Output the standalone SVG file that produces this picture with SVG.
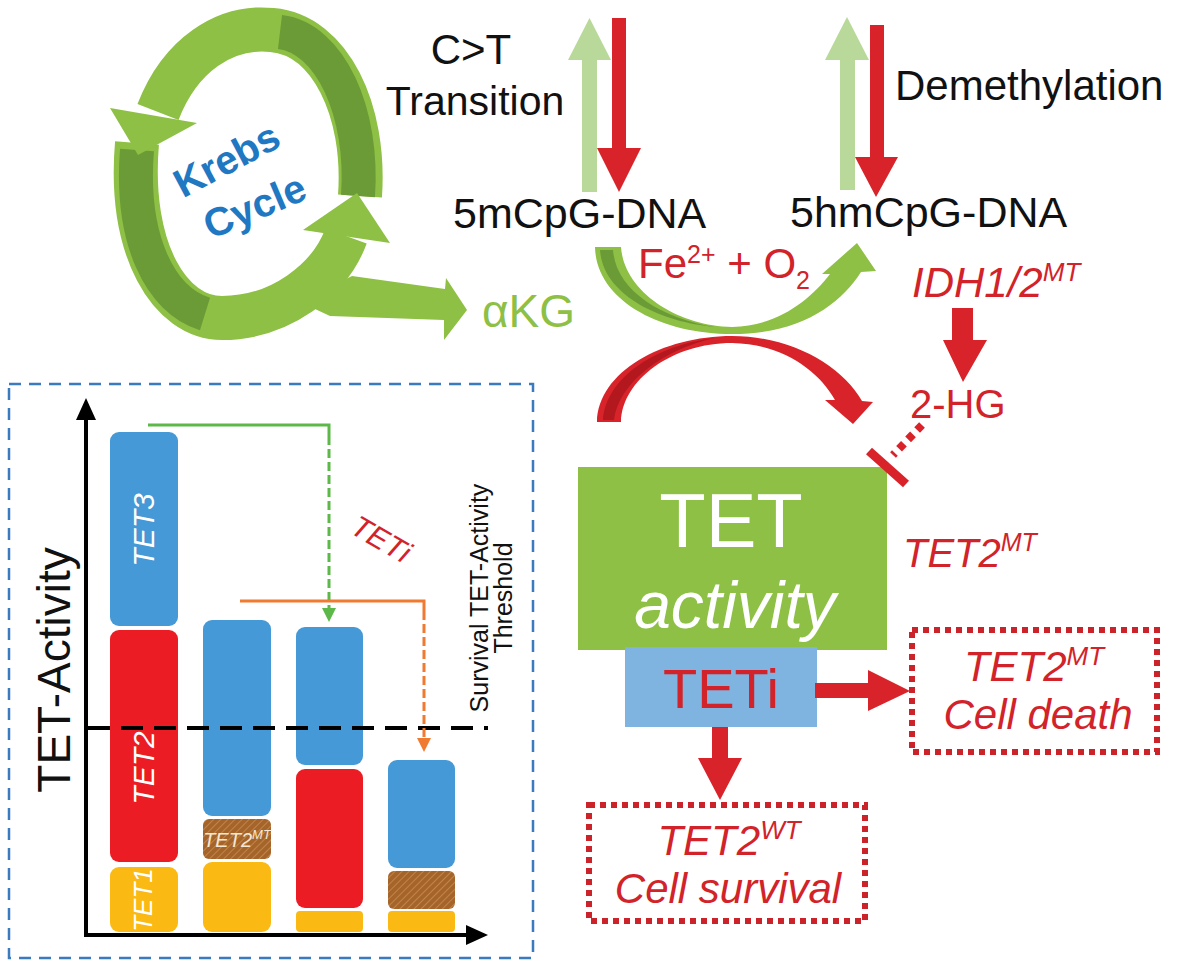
<svg xmlns="http://www.w3.org/2000/svg" width="1182" height="973" viewBox="0 0 1182 973">
<defs>
<style>
.sans{font-family:"Liberation Sans",Arial,sans-serif}
.blk{fill:#111}
.red{fill:#d2232a}
.it{font-style:italic}
.wt{fill:#fff}
.grn{fill:#8dc044}
.dgrn{fill:#6b9b36}
.lgrn{fill:#b9d99a}
.rarr{fill:#d9232a}
.dot{fill:none;stroke:#cc2229;stroke-width:6;stroke-dasharray:6 5}
.blue{fill:#4499d6}
.bred{fill:#ec1c24}
.yel{fill:#fbb913}
.brn{fill:url(#hatch)}
.ring{fill:none;stroke:#8dc044;stroke-width:44}
.ringd{fill:none;stroke:#6b9b36;stroke-width:34}
</style>
<pattern id="hatch" patternUnits="userSpaceOnUse" width="5" height="5" patternTransform="rotate(45)">
<rect width="5" height="5" fill="#a5652a"/>
<line x1="0" y1="0" x2="0" y2="5" stroke="#c98c52" stroke-width="1.6"/>
</pattern>
</defs>
<rect width="1182" height="973" fill="#fff"/>

<g id="krebs">
<path d="M 360 196 C 366 110 330 35 272 30 C 225 25 180 55 158 112" class="ring"/>
<path d="M 358 196 C 364 112 330 38 280 32" class="ringd"/>
<path d="M 137 143 C 128 250 170 318 222 318 C 280 318 330 280 346 236" class="ring"/>
<path d="M 137 150 C 130 240 160 300 205 314" class="ringd"/>
<polygon points="110,108 197,123 138,155" class="grn"/>
<polygon points="303,230 357,193 390,243" class="grn"/>
<path d="M 300 302 L 352 276 L 445 289 L 446 278 L 467 310 L 444 340 L 444 320 L 330 316 Z" class="grn"/>
<text x="233" y="172" class="sans" font-size="40" font-weight="bold" fill="#1f78c1" text-anchor="middle" transform="rotate(-28 233 172)">Krebs</text>
<text x="260" y="219" class="sans" font-size="40" font-weight="bold" fill="#1f78c1" text-anchor="middle" transform="rotate(-23 260 219)">Cycle</text>
</g>

<g id="akg">
<text x="482" y="327" class="sans" font-size="46" fill="#8dc044">αKG</text>
</g>

<g id="ct-transition">
<text x="471" y="64" class="sans blk" font-size="42" text-anchor="middle">C&gt;T</text>
<text x="475" y="115" class="sans blk" font-size="41" text-anchor="middle">Transition</text>
</g>

<g id="demethylation">
<text x="895" y="100" class="sans blk" font-size="42">Demethylation</text>
</g>

<g id="mCpG">
<text x="453" y="228" class="sans blk" font-size="43">5mCpG-DNA</text>
</g>

<g id="hmCpG">
<text x="790" y="227" class="sans blk" font-size="43">5hmCpG-DNA</text>
</g>

<g id="fe">
<text x="638" y="278" class="sans red" font-size="42">Fe<tspan font-size="25" dy="-15">2+</tspan><tspan dy="15"> + O</tspan><tspan font-size="25" dy="11">2</tspan></text>
</g>

<g id="idh">
<text x="912" y="297" class="sans red it" font-size="42">IDH1/2<tspan font-size="26" dy="-16">MT</tspan></text>
</g>

<g id="hg2">
<text x="910" y="418" class="sans red" font-size="40">2-HG</text>
</g>

<g id="tet-activity">
<rect x="578" y="467" width="309" height="183" class="grn"/>
<text x="731" y="547" class="sans wt" font-size="76" text-anchor="middle">TET</text>
<text x="735" y="628" class="sans wt it" font-size="66" text-anchor="middle">activity</text>
</g>

<g id="teti">
<rect x="625" y="647" width="192" height="80" fill="#7fb3e0"/>
<text x="721" y="708" class="sans red" font-size="56" text-anchor="middle">TETi</text>
</g>

<g id="tet2mt-label">
<text x="903" y="567" class="sans red it" font-size="40">TET2<tspan font-size="25" dy="-16">MT</tspan></text>
</g>

<g id="cell-death">
<rect x="912" y="630" width="245" height="122" class="dot"/>
<text x="1034" y="681" class="sans red it" font-size="42" text-anchor="middle">TET2<tspan font-size="26" dy="-16">MT</tspan></text>
<text x="1038" y="729" class="sans red it" font-size="42" text-anchor="middle">Cell death</text>
</g>

<g id="cell-survival">
<rect x="589" y="805" width="276" height="116" class="dot"/>
<text x="729" y="855" class="sans red it" font-size="42" text-anchor="middle">TET2<tspan font-size="26" dy="-16">WT</tspan></text>
<text x="728" y="903" class="sans red it" font-size="42" text-anchor="middle">Cell survival</text>
</g>

<g id="chart">
<rect x="9" y="384" width="524" height="574" fill="none" stroke="#3a7abf" stroke-width="2.5" stroke-dasharray="12 8"/>
<rect x="110" y="432" width="68" height="194" rx="9" class="blue"/>
<rect x="110" y="630" width="68" height="232" rx="9" class="bred"/>
<rect x="110" y="867" width="68" height="65" rx="9" class="yel"/>
<rect x="203" y="620" width="68" height="196" rx="9" class="blue"/>
<rect x="203" y="819" width="68" height="40" rx="6" class="brn"/>
<rect x="203" y="862" width="68" height="70" rx="9" class="yel"/>
<rect x="296" y="627" width="67" height="138" rx="9" class="blue"/>
<rect x="296" y="769" width="67" height="139" rx="9" class="bred"/>
<rect x="296" y="911" width="67" height="21" rx="4" class="yel"/>
<rect x="388" y="760" width="67" height="108" rx="9" class="blue"/>
<rect x="388" y="871" width="67" height="38" rx="6" class="brn"/>
<rect x="388" y="911" width="67" height="21" rx="4" class="yel"/>
<text x="154" y="530" class="sans wt it" font-size="30" text-anchor="middle" transform="rotate(-90 154 530)">TET3</text>
<text x="154" y="768" class="sans wt it" font-size="30" text-anchor="middle" transform="rotate(-90 154 768)">TET2</text>
<text x="152" y="900" class="sans wt it" font-size="26" text-anchor="middle" transform="rotate(-90 152 900)">TET1</text>
<text x="237" y="847" class="sans it" font-size="20" fill="#f6e7d2" text-anchor="middle">TET2<tspan font-size="13" dy="-8">MT</tspan></text>
<line x1="86" y1="935" x2="86" y2="418" stroke="#000" stroke-width="4"/>
<polygon points="86,398 76,420 96,420" fill="#000"/>
<line x1="84" y1="935" x2="468" y2="935" stroke="#000" stroke-width="4"/>
<polygon points="488,935 466,925 466,945" fill="#000"/>
<line x1="88" y1="728" x2="488" y2="728" stroke="#000" stroke-width="4" stroke-dasharray="22 11"/>
<text x="70" y="670" class="sans blk" font-size="46" text-anchor="middle" transform="rotate(-90 70 670)">TET-Activity</text>
<text x="488" y="598" class="sans blk" font-size="25" text-anchor="middle" transform="rotate(-90 488 598)">Survival TET-Activity</text>
<text x="512" y="598" class="sans blk" font-size="25" text-anchor="middle" transform="rotate(-90 512 598)">Threshold</text>
<text x="376" y="548" class="sans red it" font-size="30" text-anchor="middle" transform="rotate(30 376 548)">TETi</text>
</g>

<g id="connectors">
<polygon points="582,192 597,192 597,60 611,60 589.5,18 568,60 582,60" class="lgrn"/>
<polygon points="612,18 626,18 626,148 641,148 619,192 597,148 612,148" class="rarr"/>
<polygon points="840,190 855,190 855,60 869,60 847,17 825,60 840,60" class="lgrn"/>
<polygon points="870,25 884,25 884,157 898,157 876,197 855,157 870,157" class="rarr"/>
<path d="M 595 247 L 621 247 C 624 292 678 326 732 327 C 778 326 810 300 830 274 L 822 274 L 857 243 L 876 271 L 861 272 C 840 305 800 334 732 334 C 660 334 596 300 595 247 Z" class="grn"/>
<path d="M 600 250 L 613 250 C 616 290 660 318 715 327 C 660 322 603 295 600 250 Z" class="dgrn"/>
<path d="M 597 422 C 598 372 662 336 732 336 C 792 336 842 366 862 401 L 873 402 L 853 424 L 825 400 L 835 400 C 818 370 782 344 732 343 C 672 343 622 380 621 422 Z" class="rarr"/>
<path d="M 603 420 C 606 378 655 345 715 338 C 660 350 618 385 614 420 Z" fill="#b3181f"/>
<polygon points="952,308 973,308 973,340 987,340 963,382 943,340 952,340" class="rarr"/>
<line x1="922" y1="425" x2="893" y2="455" stroke="#d9232a" stroke-width="8" stroke-dasharray="7 6"/>
<line x1="869" y1="451" x2="906" y2="484" stroke="#d9232a" stroke-width="9"/>
<polygon points="815,683 868,683 868,670 910,691 868,711 868,698 815,698" class="rarr"/>
<polygon points="712,727 728,727 728,758 742,758 720,800 698,758 712,758" class="rarr"/>
<polyline points="148,425 329,425 329,445" fill="none" stroke="#5cb848" stroke-width="3"/>
<line x1="329" y1="449" x2="329" y2="612" stroke="#5cb848" stroke-width="3" stroke-dasharray="9 4"/>
<polygon points="329,622 322,608 336,608" fill="#5cb848"/>
<polyline points="240,601 424,601 424,620" fill="none" stroke="#f07b30" stroke-width="3"/>
<line x1="424" y1="624" x2="424" y2="742" stroke="#f07b30" stroke-width="3" stroke-dasharray="9 4"/>
<polygon points="424,752 417,738 431,738" fill="#f07b30"/>
</g>
</svg>
